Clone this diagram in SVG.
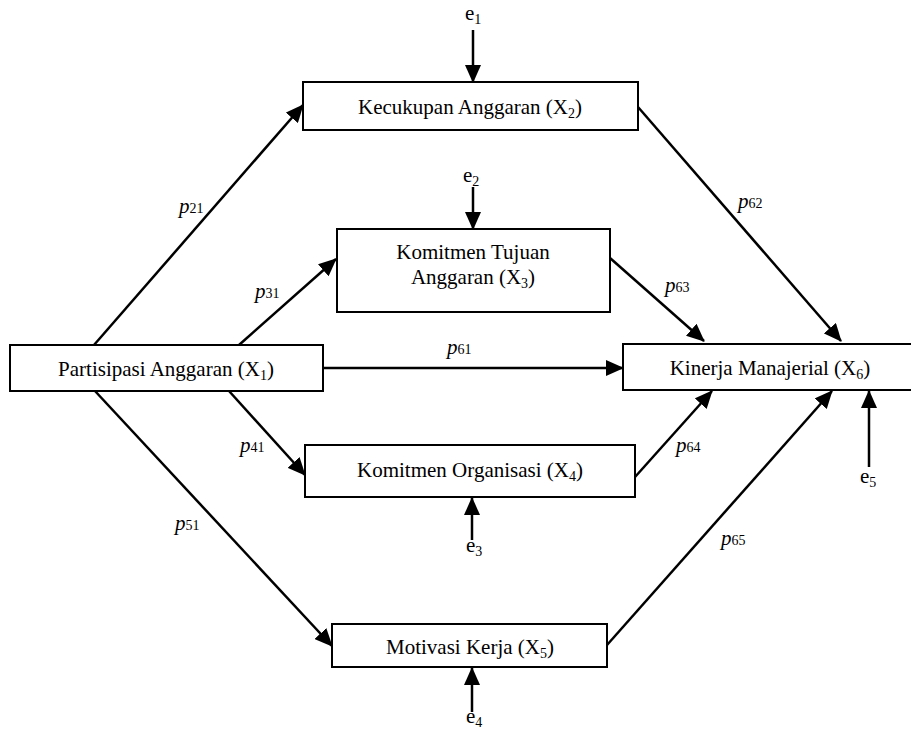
<svg xmlns="http://www.w3.org/2000/svg" width="911" height="731" viewBox="0 0 911 731">
<defs>
<style>
.box{fill:#fff;stroke:#000;stroke-width:2}
.t{font-family:"Liberation Serif","Times New Roman",serif;font-size:21px;fill:#000}
.c{text-anchor:middle}
.p{font-style:italic}
.s{font-size:14px;font-style:normal}
.ln{stroke:#000;stroke-width:2.5;fill:none;marker-end:url(#ah)}
</style>
<marker id="ah" markerUnits="userSpaceOnUse" markerWidth="18" markerHeight="16" viewBox="0 0 18 16" refX="17" refY="8" orient="auto">
<path d="M0,0 L18,8 L0,16 Z" fill="#000"/>
</marker>
</defs>
<g id="connectors">
<line class="ln" x1="94" y1="345" x2="303" y2="105"/>
<line class="ln" x1="239" y1="345" x2="336" y2="259"/>
<line class="ln" x1="323" y1="368" x2="623" y2="368"/>
<line class="ln" x1="229" y1="391" x2="305" y2="475"/>
<line class="ln" x1="95" y1="391" x2="332" y2="646"/>
<line class="ln" x1="638" y1="107" x2="841" y2="341"/>
<line class="ln" x1="610" y1="258" x2="704" y2="341"/>
<line class="ln" x1="635" y1="477" x2="712" y2="391"/>
<line class="ln" x1="607" y1="645" x2="832" y2="391"/>
<line class="ln" x1="473" y1="30" x2="473" y2="82"/>
<line class="ln" x1="473" y1="187" x2="473" y2="229"/>
<line class="ln" x1="472" y1="540" x2="472" y2="498"/>
<line class="ln" x1="472" y1="712" x2="472" y2="668"/>
<line class="ln" x1="869" y1="467" x2="869" y2="391"/>
</g>
<g id="labels" class="t">
<text class="p" x="179" y="213">p<tspan class="s" dy="0">21</tspan></text>
<text class="p" x="255" y="298">p<tspan class="s">31</tspan></text>
<text class="p" x="447" y="354">p<tspan class="s">61</tspan></text>
<text class="p" x="240" y="452">p<tspan class="s">41</tspan></text>
<text class="p" x="175" y="530">p<tspan class="s">51</tspan></text>
<text class="p" x="738" y="208">p<tspan class="s">62</tspan></text>
<text class="p" x="665" y="292">p<tspan class="s">63</tspan></text>
<text class="p" x="676" y="452">p<tspan class="s">64</tspan></text>
<text class="p" x="721" y="545">p<tspan class="s">65</tspan></text>
<text x="465" y="20">e<tspan class="s" dy="4">1</tspan></text>
<text x="463" y="182">e<tspan class="s" dy="4">2</tspan></text>
<text x="466" y="552">e<tspan class="s" dy="4">3</tspan></text>
<text x="466" y="723">e<tspan class="s" dy="4">4</tspan></text>
<text x="860" y="483">e<tspan class="s" dy="4">5</tspan></text>
</g>
<g id="X1">
<rect class="box" x="10" y="345" width="313" height="46"/>
<text class="t c" x="166" y="376">Partisipasi Anggaran (X<tspan class="s" dy="4">1</tspan><tspan dy="-4">)</tspan></text>
</g>
<g id="X2">
<rect class="box" x="303" y="82" width="335" height="48"/>
<text class="t c" x="470" y="114">Kecukupan Anggaran (X<tspan class="s" dy="4">2</tspan><tspan dy="-4">)</tspan></text>
</g>
<g id="X3">
<rect class="box" x="337" y="229" width="273" height="83"/>
<text class="t c" x="473" y="259">Komitmen Tujuan</text>
<text class="t c" x="473" y="284">Anggaran (X<tspan class="s" dy="4">3</tspan><tspan dy="-4">)</tspan></text>
</g>
<g id="X4">
<rect class="box" x="305" y="445" width="330" height="52"/>
<text class="t c" x="470" y="477">Komitmen Organisasi (X<tspan class="s" dy="4">4</tspan><tspan dy="-4">)</tspan></text>
</g>
<g id="X5">
<rect class="box" x="332" y="624" width="275" height="43"/>
<text class="t c" x="470" y="654">Motivasi Kerja (X<tspan class="s" dy="4">5</tspan><tspan dy="-4">)</tspan></text>
</g>
<g id="X6">
<rect class="box" x="623" y="344" width="296" height="46"/>
<text class="t c" x="770" y="375">Kinerja Manajerial (X<tspan class="s" dy="4">6</tspan><tspan dy="-4">)</tspan></text>
</g>
</svg>
